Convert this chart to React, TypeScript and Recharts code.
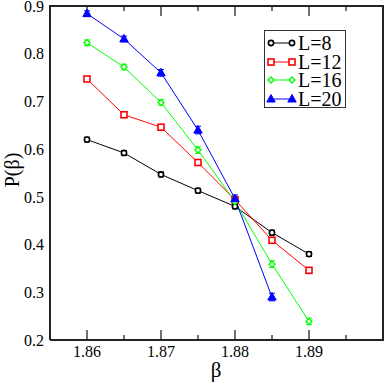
import React from 'react';
import { LineChart, Line, XAxis, YAxis, ErrorBar } from 'recharts';

// beta values
const betas = [1.86, 1.865, 1.87, 1.875, 1.88, 1.885, 1.89];

// P(beta) for each lattice size
const p8 = [0.620, 0.592, 0.547, 0.513, 0.480, 0.425, 0.380];
const p12 = [0.747, 0.672, 0.646, 0.572, 0.494, 0.409, 0.346];
const p16 = [0.823, 0.772, 0.698, 0.598, 0.490, 0.359, 0.239];
const p20 = [0.884, 0.831, 0.760, 0.640, 0.496, 0.290];

// error bar half widths
const e8 = [0.005, 0.005, 0.005, 0.005, 0.005, 0.005, 0.005];
const e12 = [0.005, 0.005, 0.005, 0.005, 0.005, 0.006, 0.005];
const e16 = [0.006, 0.006, 0.006, 0.007, 0.007, 0.007, 0.007];
const e20 = [0.006, 0.006, 0.007, 0.008, 0.008, 0.008];

const xMajor = [1.86, 1.87, 1.88, 1.89];
const xAll = [1.855, 1.86, 1.865, 1.87, 1.875, 1.88, 1.885, 1.89, 1.895];
const yMajor = [0.2, 0.3, 0.4, 0.5, 0.6, 0.7, 0.8, 0.9];
const yAll = [0.2, 0.25, 0.3, 0.35, 0.4, 0.45, 0.5, 0.55, 0.6, 0.65, 0.7, 0.75, 0.8, 0.85, 0.9];

const xDomain = [1.855, 1.9];
const yDomain = [0.2, 0.9];

const data = betas.map((b, i) => ({
  beta: b,
  p8: p8[i], e8: e8[i],
  p12: p12[i], e12: e12[i],
  p16: p16[i], e16: e16[i],
  p20: p20[i], e20: e20[i],
}));

const FONT = '"Times New Roman", "Liberation Serif", Times, serif';
const INK = '#222';

// marker shapes
const Marker = ({ kind, cx, cy, color }: any) => {
  if (cx == null || cy == null) return null;
  if (kind === 'circle')
    return <circle cx={cx} cy={cy} r={2.6} fill="#fff" stroke={color} strokeWidth={1.6} />;
  if (kind === 'square')
    return <rect x={cx - 3} y={cy - 3} width={6} height={6} fill="#fff" stroke={color} strokeWidth={1.6} />;
  if (kind === 'diamond')
    return <path d={`M${cx},${cy - 3}L${cx + 3},${cy}L${cx},${cy + 3}L${cx - 3},${cy}Z`} fill="#fff" stroke={color} strokeWidth={1.4} />;
  return <path d={`M${cx},${cy - 4.5}L${cx + 4.2},${cy + 3}L${cx - 4.2},${cy + 3}Z`} fill={color} stroke={color} strokeWidth={1} />;
};

const series = [
  { key: 'p8', err: 'e8', name: 'L=8', color: '#000000', kind: 'circle' },
  { key: 'p12', err: 'e12', name: 'L=12', color: '#ff0000', kind: 'square' },
  { key: 'p16', err: 'e16', name: 'L=16', color: '#00ff00', kind: 'diamond' },
  { key: 'p20', err: 'e20', name: 'L=20', color: '#0000ff', kind: 'triangle' },
];

const LegendBox = () => (
  <div
    style={{
      position: 'absolute',
      left: 264,
      top: 30,
      width: 82,
      height: 78,
      border: '1px solid #333',
      background: '#fff',
      fontFamily: FONT,
      fontSize: 20,
      lineHeight: '18.5px',
      paddingTop: 3,
      boxSizing: 'border-box',
    }}
  >
    {series.map(s => (
      <div key={s.key} style={{ display: 'flex', alignItems: 'center', height: 18.5 }}>
        <svg width={33} height={12} style={{ flex: 'none' }}>
          <line x1={6} y1={6} x2={27} y2={6} stroke={s.color} strokeWidth={1} />
          <Marker kind={s.kind} cx={6} cy={6} color={s.color} />
          <Marker kind={s.kind} cx={27} cy={6} color={s.color} />
        </svg>
        <span>{s.name}</span>
      </div>
    ))}
  </div>
);

const frame = { stroke: INK, strokeWidth: 2 };
const tickPen = { stroke: INK, strokeWidth: 1.3 };
const labelFont = { fontFamily: FONT, fontSize: 16, fill: '#000' };
const blank = () => '';

// inward tick marks: mirrored axes sit inside the plot and take no room.
// first one on a side (all ticks, 5px) lies on the frame, the second
// (majors) is stacked 5px further in, so majors reach 10px.
const xTickAxis = (id: string, side: 'top' | 'bottom', ticks: number[]) => (
  <XAxis
    key={id}
    xAxisId={id}
    orientation={side}
    mirror
    type="number"
    dataKey="beta"
    domain={xDomain}
    ticks={ticks}
    interval={0}
    height={5}
    tickSize={5}
    tickMargin={0}
    tick={{ fill: 'none', fontSize: 1 }}
    tickFormatter={blank}
    tickLine={tickPen}
    axisLine={false}
  />
);

const yTickAxis = (id: string, side: 'left' | 'right', ticks: number[]) => (
  <YAxis
    key={id}
    yAxisId={id}
    orientation={side}
    mirror
    type="number"
    domain={yDomain}
    ticks={ticks}
    interval={0}
    width={5}
    tickSize={5}
    tickMargin={0}
    tick={{ fill: 'none', fontSize: 1 }}
    tickFormatter={blank}
    tickLine={tickPen}
    axisLine={false}
  />
);

export default function App() {
  return (
    <div style={{ position: 'absolute', left: 0, top: 0, width: 385, height: 382, background: '#fff' }}>
      <LineChart width={385} height={382} data={data} margin={{ top: 6, right: 2, left: 0, bottom: 0 }}>
        <XAxis
          dataKey="beta"
          type="number"
          domain={xDomain}
          ticks={xMajor}
          interval={0}
          height={42}
          tickSize={0}
          tickMargin={6}
          tickLine={false}
          tick={labelFont}
          axisLine={frame}
        />
        <YAxis
          type="number"
          domain={yDomain}
          ticks={yMajor}
          interval={0}
          width={50}
          tickSize={0}
          tickMargin={6}
          tickLine={false}
          tick={labelFont}
          tickFormatter={(v: number) => v.toFixed(1)}
          axisLine={frame}
        />
        {xTickAxis('bAll', 'bottom', xAll)}
        {xTickAxis('bMaj', 'bottom', xMajor)}
        {xTickAxis('tAll', 'top', xAll)}
        {xTickAxis('tMaj', 'top', xMajor)}
        {yTickAxis('lAll', 'left', yAll)}
        {yTickAxis('lMaj', 'left', yMajor)}
        {yTickAxis('rAll', 'right', yAll)}
        {yTickAxis('rMaj', 'right', yMajor)}
        {series.map(s => (
          <Line
            key={s.key}
            dataKey={s.key}
            name={s.name}
            stroke={s.color}
            strokeWidth={1}
            isAnimationActive={false}
            dot={(p: any) => <Marker key={`${s.key}-${p.index}`} kind={s.kind} cx={p.cx} cy={p.cy} color={s.color} />}
            activeDot={false}
          >
            <ErrorBar dataKey={s.err} width={3} stroke={s.color} strokeWidth={1} direction="y" />
          </Line>
        ))}
      </LineChart>
      {/* top and right sides of the box frame */}
      <div
        style={{
          position: 'absolute',
          left: 49,
          top: 5,
          width: 335,
          height: 336,
          borderTop: `2px solid ${INK}`,
          borderRight: `2px solid ${INK}`,
          boxSizing: 'border-box',
          pointerEvents: 'none',
        }}
      />
      <LegendBox />
      <div
        style={{
          position: 'absolute',
          left: 12,
          top: 170,
          transform: 'translate(-50%, -50%) rotate(-90deg)',
          fontFamily: FONT,
          fontSize: 20,
          whiteSpace: 'nowrap',
        }}
      >
        P(β)
      </div>
      <div
        style={{
          position: 'absolute',
          left: 216,
          top: 370,
          transform: 'translate(-50%, -50%)',
          fontFamily: FONT,
          fontSize: 21,
        }}
      >
        β
      </div>
    </div>
  );
}
